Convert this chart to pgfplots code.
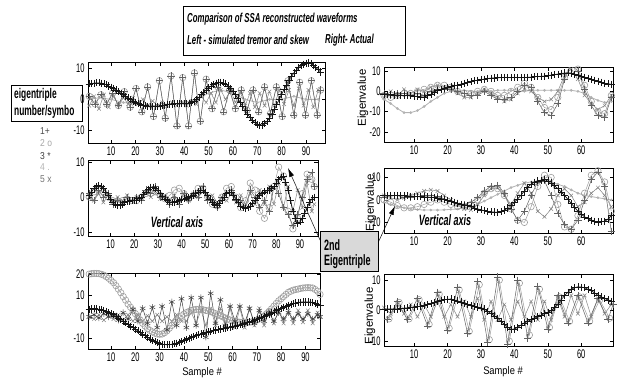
\documentclass[border=0pt]{standalone}
\usepackage{pgfplots}
\pgfplotsset{compat=1.18}
\usepackage{pgfplotstable}
\usepackage{fontspec}
\setmainfont{Liberation Sans}
\newfontfamily\nar{Liberation Sans}[FakeStretch=0.6]
\newfontfamily\midf{Liberation Sans}[FakeStretch=0.85]
\usetikzlibrary{arrows.meta}

% ---------------- data ----------------
% Top-left
\pgfplotstableread[row sep=\\]{x y\\1 5\\2 5.1\\3 5.2\\4 5.3\\5 5.3\\6 5.2\\7 5\\8 4.7\\9 4.3\\10 3.9\\11 3.5\\12 3\\13 2.5\\14 2\\15 1.5\\16 1\\17 0.5\\18 0\\19 -0.5\\20 -0.9\\21 -1.2\\22 -1.5\\23 -1.8\\24 -2\\25 -2.2\\26 -2.3\\27 -2.3\\28 -2.3\\29 -2.2\\30 -2.1\\31 -2\\32 -1.9\\33 -1.7\\34 -1.6\\35 -1.5\\36 -1.4\\37 -1.4\\38 -1.4\\39 -1.4\\40 -1.4\\41 -1.3\\42 -1.2\\43 -1\\44 -0.6\\45 0\\46 0.7\\47 1.5\\48 2.2\\49 3\\50 3.7\\51 4.3\\52 4.8\\53 5.2\\54 5.4\\55 5.5\\56 5.3\\57 5\\58 4.3\\59 3.5\\60 2.5\\61 1.5\\62 0.3\\63 -1\\64 -2.2\\65 -3.5\\66 -4.7\\67 -5.8\\68 -6.7\\69 -7.5\\70 -8\\71 -8.3\\72 -8.2\\73 -7.8\\74 -7\\75 -6\\76 -4.7\\77 -3.2\\78 -1.6\\79 0\\80 1.6\\81 3.2\\82 4.6\\83 6\\84 7.3\\85 8.5\\86 9.4\\87 10.2\\88 10.8\\89 11.3\\90 11.6\\91 11.7\\92 11.5\\93 11\\94 10.3\\95 9.5\\96 8.8\\}\tlA
\pgfplotstableread[row sep=\\]{x y\\1 1\\3.4 -1.5\\5.8 1.5\\8.2 -1.5\\10.6 2\\13 -2\\15.4 2.5\\17.8 -2.5\\20.2 3.5\\22.6 -4\\25 4\\27.4 -5.5\\29.8 6\\32.2 -6\\34.6 7.5\\37 -8.5\\39.4 7\\41.8 -8.5\\44.2 8.5\\46.6 -7\\49 6.5\\51.4 -3\\53.8 4\\56.2 -4\\58.6 3\\61 -3\\63.4 3\\65.8 -3.5\\68.2 3\\70.6 -4\\73 4\\75.4 -4.5\\77.8 4\\80.2 -5.5\\82.6 6\\85 -5\\87.4 5.5\\89.8 -5\\92.2 6\\94.6 -5\\96 3\\}\tlB
\pgfplotstableread[row sep=\\]{x y\\1 -2\\3 1\\5 -3\\7 1.5\\9 -2.5\\11 1\\13 -2\\15 0.5\\17 -1.5\\19 0.5\\21 -1.5\\23 0\\25 -2\\27 -0.5\\29 -2\\31 -1\\33 -2\\35 -1\\37 -2\\39 -1\\41 -2\\43 -0.5\\45 -1.5\\47 1\\49 -1\\51 2\\53 -1\\55 3\\57 0\\59 3\\61 -1\\63 2.5\\65 -2\\67 2\\69 -2.5\\71 2\\73 -2\\75 2.5\\77 -2\\79 3\\81 -1.5\\83 3\\85 -2\\87 3.5\\89 -2\\91 3\\93 -2.5\\95 3\\}\tlE
\pgfplotstableread[row sep=\\]{x y\\1 0\\5 0.5\\10 0\\15 -1\\20 -1.5\\25 -2\\30 -2\\35 -1.5\\40 -1\\45 0\\50 2\\55 3\\60 2\\65 0\\70 -1\\75 0\\80 0\\85 1\\90 0\\95 0\\}\tlD
% Middle-left
\pgfplotstableread[row sep=\\]{x y\\1 0.5\\2 1.5\\3 2.5\\4 3\\5 3.3\\6 3\\7 2.5\\8 1.5\\9 0.5\\10 -0.5\\11 -1.5\\12 -2\\13 -2.3\\14 -2.2\\15 -2\\16 -1.6\\17 -1.2\\18 -1.1\\19 -1\\20 -0.9\\21 -0.8\\22 -0.4\\23 0\\24 0.7\\25 1.5\\26 2.2\\27 2.8\\28 2.8\\29 2.5\\30 1.8\\31 1\\32 0.2\\33 -0.5\\34 -1\\35 -1.5\\36 -1.5\\37 -1.5\\38 -1.3\\39 -1\\40 -0.7\\41 -0.5\\42 -0.2\\43 0\\44 0.2\\45 0.5\\46 1\\47 1.5\\48 1.8\\49 2\\50 1.3\\51 0.5\\52 -0.5\\53 -1.5\\54 -2\\55 -2.2\\56 -1.7\\57 -1\\58 0\\59 1\\60 1.3\\61 1.3\\62 0.5\\63 -0.5\\64 -1.5\\65 -2.5\\66 -3\\67 -3.3\\68 -3\\69 -2.5\\70 -1.8\\71 -1\\72 -0.2\\73 0.5\\74 1\\75 1.5\\76 1.8\\77 2\\78 2.5\\79 3\\80 4\\81 5\\82 5.6\\83 5.8\\84 4.2\\85 2\\86 -1\\87 -4\\88 -6\\89 -7.5\\90 -7\\91 -6\\92 -4.5\\93 -3\\94 -1.5\\95 -0.5\\96 0\\}\mlA
\pgfplotstableread[row sep=\\]{x y\\1 0\\3 1.5\\5 2\\7 1.5\\9 0\\11 -1\\13 -1.5\\15 -1\\17 -0.5\\19 -1\\21 -1\\23 0\\25 1\\27 2\\29 1.5\\31 0.5\\33 -0.5\\35 0.5\\37 2\\39 2.5\\41 1\\43 -0.5\\45 0.5\\47 2.5\\49 2.5\\51 0\\53 -2\\55 -2.5\\57 0\\59 2.5\\61 3\\63 0\\65 -3\\67 -1\\69 4\\71 2\\73 -4\\75 -6\\77 -3\\79 3\\81 8.5\\83 6\\85 -4\\87 -9\\89 -6\\91 1\\93 6.5\\95 5\\96 3\\}\mlC
\pgfplotstableread[row sep=\\]{x y\\1 1\\3 -1\\5 2\\7 0\\9 1\\11 -2\\13 -1\\15 -2\\17 0\\19 -1\\21 0\\23 -1\\25 2\\27 1\\29 3\\31 0\\33 0\\35 -2\\37 0\\39 -2\\41 1\\43 -1\\45 1\\47 0\\49 3\\51 -1\\53 -1\\55 -3\\57 0\\59 1\\61 2\\63 -1\\65 -1\\67 -3\\69 2\\71 0\\73 -3\\75 -1\\77 -4\\79 3\\81 1\\83 -3\\85 -5\\87 -8\\89 -5\\91 0\\93 5\\95 7\\96 3\\}\mlB
\pgfplotstableread[row sep=\\]{x y\\1 0\\3 -1\\5 1\\7 -1.5\\9 0.5\\11 -1\\13 0\\15 -1\\17 0.5\\19 -1\\21 0\\23 -0.5\\25 1\\27 0\\29 1\\31 -0.5\\33 0.5\\35 -1\\37 0.5\\39 -1\\41 1\\43 -1\\45 1\\47 0\\49 1.5\\51 -0.5\\53 0.5\\55 -1.5\\57 0\\59 -1\\61 1\\63 -1.5\\65 0.5\\67 -2\\69 1\\71 -2\\73 2\\75 -2\\77 3\\79 -2\\81 4\\83 -3\\85 3\\87 -4\\89 2\\91 -3\\93 4\\95 -4\\96 -2\\}\mlE
% Bottom-left
\pgfplotstableread[row sep=\\]{x y\\1 20\\2 20.2\\3 20.3\\4 20.3\\5 20.2\\6 19.9\\7 19.5\\8 18.8\\9 18\\10 17\\11 16\\12 14.6\\13 13\\14 11.3\\15 9.5\\16 7.8\\17 6\\18 4.5\\19 3\\20 1.5\\21 0\\22 -1.5\\23 -3\\24 -4.3\\25 -5.5\\26 -6.3\\27 -7\\28 -7.6\\29 -8\\30 -8.1\\31 -8\\32 -7.4\\33 -6.5\\34 -5.3\\35 -4\\36 -2.7\\37 -1.5\\38 -0.5\\39 0.5\\40 1.3\\41 2\\42 2.5\\43 3\\44 3.3\\45 3.5\\46 3.5\\47 3.5\\48 3.3\\49 3\\50 2.8\\51 2.5\\52 2\\53 1.5\\54 1\\55 0.5\\56 0\\57 -0.5\\58 -1\\59 -1.5\\60 -1.8\\61 -2\\62 -2.3\\63 -2.5\\64 -2.5\\65 -2.5\\66 -2.5\\67 -2.5\\68 -2.3\\69 -2\\70 -1.5\\71 -1\\72 -0.3\\73 0.5\\74 1.5\\75 2.5\\76 3.7\\77 5\\78 6.3\\79 7.5\\80 8.5\\81 9.5\\82 10.5\\83 11.5\\84 12\\85 12.5\\86 12.8\\87 13\\88 13.3\\89 13.5\\90 13.6\\91 13.7\\92 13.6\\93 13.5\\94 12.8\\95 12\\96 10.5\\}\blC
\pgfplotstableread[row sep=\\]{x y\\1 3.5\\2 3.7\\3 3.8\\4 3.7\\5 3.5\\6 3.3\\7 3\\8 2.5\\9 2\\10 1.5\\11 1\\12 0.3\\13 -0.5\\14 -1.2\\15 -2\\16 -2.8\\17 -3.5\\18 -4.3\\19 -5\\20 -5.8\\21 -6.5\\22 -7.3\\23 -8\\24 -8.8\\25 -9.5\\26 -10.3\\27 -11\\28 -11.5\\29 -12\\30 -12.4\\31 -12.8\\32 -12.9\\33 -13\\34 -12.9\\35 -12.8\\36 -12.6\\37 -12.3\\38 -11.9\\39 -11.5\\40 -11\\41 -10.5\\42 -10\\43 -9.5\\44 -9.1\\45 -8.7\\46 -8.3\\47 -8\\48 -7.6\\49 -7.3\\50 -7\\51 -6.7\\52 -6.4\\53 -6.2\\54 -5.9\\55 -5.7\\56 -5.4\\57 -5.2\\58 -4.9\\59 -4.7\\60 -4.4\\61 -4.2\\62 -3.9\\63 -3.7\\64 -3.3\\65 -3\\66 -2.6\\67 -2.3\\68 -1.9\\69 -1.5\\70 -1.1\\71 -0.7\\72 -0.2\\73 0.3\\74 0.8\\75 1.3\\76 1.8\\77 2.3\\78 2.9\\79 3.5\\80 4\\81 4.5\\82 5\\83 5.5\\84 5.9\\85 6.2\\86 6.5\\87 6.7\\88 6.9\\89 7\\90 7\\91 7\\92 6.9\\93 6.7\\94 6.4\\95 6\\96 5.5\\}\blA
\pgfplotstableread[row sep=\\]{x y\\1 0\\3 1\\5 -0.5\\7 1.5\\9 0\\11 1\\13 -1.5\\15 2\\17 -1\\19 3.5\\21 -2\\23 4\\25 -3\\27 4.5\\29 -5\\31 5\\33 -6\\35 7\\37 -4\\39 8.5\\41 -5\\43 9\\45 -4\\47 9\\49 -9.5\\51 11\\53 -3\\55 8\\57 -4\\59 5\\61 -2\\63 5\\65 -3\\67 4\\69 -3\\71 3\\73 -2\\75 2\\77 -2\\79 2\\81 -1\\83 2\\85 -1\\87 1.5\\89 -1\\91 1.5\\93 -1\\95 1\\96 0\\}\blF
\pgfplotstableread[row sep=\\]{x y\\1 0\\3 -1\\5 1\\7 -1.5\\9 0.5\\11 -1\\13 1\\15 -1.5\\17 1\\19 -2\\21 1\\23 -2\\25 0.5\\27 -2\\29 1\\31 -2\\33 0\\35 -2\\37 1\\39 -2\\41 -2\\43 2\\45 -3\\47 3\\49 -4\\51 4\\53 -4\\55 4\\57 -5\\59 4\\61 -5\\63 4\\65 -5\\67 4\\69 -4\\71 4\\73 -4\\75 3\\77 -3\\79 3\\81 -3\\83 3\\85 -3\\87 3\\89 -2.5\\91 3\\93 -3\\95 2\\96 0\\}\blE
% Top-right
\pgfplotstableread[row sep=\\]{x y\\1 -1.5\\2 -1.5\\3 -1.5\\4 -1.8\\5 -2\\6 -2\\7 -2\\8 -2.1\\9 -2.2\\10 -2.3\\11 -2.5\\12 -2.7\\13 -2.8\\14 -2.2\\15 -1.5\\16 -0.5\\17 0.5\\18 1\\19 1.5\\20 2\\21 2.5\\22 2.8\\23 3\\24 3.5\\25 4\\26 4.4\\27 4.8\\28 5.2\\29 5.5\\30 5.8\\31 6\\32 6.3\\33 6.5\\34 6.6\\35 6.7\\36 6.8\\37 6.8\\38 6.8\\39 6.8\\40 6.8\\41 6.8\\42 6.8\\43 6.8\\44 6.9\\45 7\\46 7.2\\47 7.3\\48 7.4\\49 7.5\\50 7.7\\51 8\\52 8.3\\53 8.5\\54 8.8\\55 9\\56 9.1\\57 9\\58 8.5\\59 8\\60 7.5\\61 7\\62 6.5\\63 6\\64 5.5\\65 5\\66 4.5\\67 4\\68 3.7\\69 3.5\\}\trA
\pgfplotstableread[row sep=\\]{x y\\1 -1\\3 -2\\5 -1\\7 -1\\9 -2\\11 -1\\13 -2\\15 0\\17 1\\19 1\\21 1\\23 0\\25 -1\\27 -2\\29 -2\\31 0\\33 -2\\35 -4\\37 -4\\39 -3\\41 0\\43 3\\45 2\\47 -5\\49 -10.5\\51 -12\\53 -6\\55 6\\57 13\\59 10\\61 1\\63 -7\\65 -12\\67 -13\\69 -3\\}\trB
\pgfplotstableread[row sep=\\]{x y\\1 -2\\3 -3\\5 -2\\7 -1\\9 -1\\11 0\\13 1\\15 2\\17 3\\19 3\\21 2\\23 0\\25 -1\\27 -1\\29 0\\31 1\\33 0\\35 -2\\37 -2\\39 0\\41 2\\43 4\\45 2\\47 -3\\49 -8\\51 -9\\53 -3\\55 7\\57 14\\59 11\\61 3\\63 -5\\65 -10\\67 -11\\69 -2\\}\trC
\pgfplotstableread[row sep=\\]{x y\\1 -4\\3 -6\\5 -8.5\\7 -10.5\\9 -10.5\\11 -9.5\\13 -7.5\\15 -5\\17 -3\\19 -1\\21 0\\23 0.5\\25 0.5\\27 0\\29 0\\31 0\\33 0\\35 0.5\\37 0.5\\39 0.5\\41 0\\43 0\\45 0.5\\47 0.5\\49 0.5\\51 0.5\\53 0.5\\55 0.5\\57 0.5\\59 0\\61 -1\\63 -3\\65 -4.5\\67 -5.5\\69 -5\\}\trD
\pgfplotstableread[row sep=\\]{x y\\1 -3\\3 0\\5 -2\\7 1\\9 -1\\11 1\\13 0\\15 2\\17 3\\19 2\\21 1\\23 -1\\25 -3\\27 -3\\29 -1\\31 1\\33 -1\\35 -3\\37 -5\\39 -4\\41 -1\\43 1\\45 0\\47 -3\\49 -5\\51 -4\\53 0\\55 8\\57 11\\59 6\\61 -2\\63 -6\\65 -9\\67 -7\\69 -2\\}\trE
% Middle-right
\pgfplotstableread[row sep=\\]{x y\\1 2\\2 2\\3 2\\4 2\\5 2\\6 2\\7 2\\8 1.8\\9 1.7\\10 1.6\\11 1.5\\12 1.4\\13 1.3\\14 1.3\\15 1.2\\16 1\\17 0.8\\18 0.5\\19 0.3\\20 -0.1\\21 -0.5\\22 -1\\23 -1.5\\24 -1.9\\25 -2.3\\26 -2.6\\27 -3\\28 -3.5\\29 -4\\30 -4.4\\31 -4.8\\32 -5.1\\33 -5.3\\34 -5.4\\35 -5.5\\36 -5.1\\37 -4.5\\38 -3.6\\39 -2.5\\40 -1\\41 0.5\\42 2.2\\43 4\\44 5.6\\45 7\\46 7.9\\47 8.5\\48 8.8\\49 9\\50 8.4\\51 7.5\\52 6.3\\53 5\\54 3.5\\55 2\\56 0.3\\57 -1.5\\58 -3.3\\59 -5\\60 -6.3\\61 -7.5\\62 -8.3\\63 -9\\64 -9.5\\65 -9.8\\66 -9.7\\67 -9.5\\68 -8.5\\69 -7\\}\mrA
\pgfplotstableread[row sep=\\]{x y\\1 1\\3 2\\5 2\\7 1\\9 1\\11 1.5\\13 2\\15 2\\17 1.5\\19 0.5\\21 -0.5\\23 -1.5\\25 -2\\27 -1\\29 1\\31 4\\33 6\\35 6.5\\37 3\\39 -4\\41 -9\\43 -5\\45 2\\47 8\\49 8.5\\51 2\\53 -6\\55 -11\\57 -13\\59 -9\\61 0\\63 9\\65 12.5\\67 6\\69 -14\\}\mrB
\pgfplotstableread[row sep=\\]{x y\\1 0\\3 -1\\5 -2.5\\7 -3.5\\9 -3.5\\11 -3\\13 -2\\15 -1\\17 0\\19 -1\\21 -2\\23 -3\\25 -3\\27 -2\\29 0\\31 3\\33 5\\35 5\\37 2\\39 -4\\41 -9\\43 -10\\45 -3\\47 6\\49 11\\51 10\\53 -2\\55 -12\\57 -13\\59 -7\\61 3\\63 11\\65 13\\67 8\\69 -5\\}\mrC
\pgfplotstableread[row sep=\\]{x y\\1 -1\\3 -2\\5 -3\\7 -3.5\\9 -4\\11 -4.3\\13 -4.5\\15 -4.5\\17 -4.5\\19 -4.4\\21 -4.2\\23 -4\\25 -3.5\\27 -3\\29 -2\\31 -0.5\\33 1\\35 2.5\\37 4\\39 5.5\\41 6.5\\43 7.5\\45 8\\47 8.5\\49 8.5\\51 8\\53 7\\55 6\\57 4.5\\59 3\\61 2\\63 1.5\\65 1\\67 0.5\\69 0\\}\mrD
\pgfplotstableread[row sep=\\]{x y\\1 2\\3 1\\5 0\\7 1\\9 2\\11 3\\13 4\\15 4.5\\17 4\\19 2\\21 0\\23 -2\\25 -4\\27 -4.5\\29 -2\\31 2\\33 5\\35 5.5\\37 2\\39 -2\\41 3\\43 7.5\\45 3\\47 -5\\49 -7.5\\51 -4\\53 2\\55 5\\57 2\\59 -3\\61 -1\\63 3\\65 5.5\\67 2\\69 -3\\}\mrE
% Bottom-right
\pgfplotstableread[row sep=\\]{x y\\1 0.5\\2 0.5\\3 0.5\\4 0.5\\5 0.5\\6 0.6\\7 0.8\\8 0.9\\9 1\\10 1.1\\11 1.3\\12 1.5\\13 1.7\\14 2\\15 2.3\\16 2.6\\17 3\\18 3.3\\19 3.6\\20 3.7\\21 3.8\\22 3.5\\23 3.2\\24 2.8\\25 2.4\\26 2\\27 1.6\\28 1.4\\29 1.2\\30 0.9\\31 0.5\\32 -0.2\\33 -1\\34 -1.7\\35 -2.5\\36 -3.5\\37 -4.5\\38 -5.4\\39 -6.2\\40 -6\\41 -5.5\\42 -4.7\\43 -4\\44 -3.5\\45 -3\\46 -2.5\\47 -2\\48 -1.5\\49 -1\\50 -0.5\\51 0\\52 1\\53 2\\54 3.5\\55 5\\56 6\\57 7\\58 7.5\\59 7.8\\60 7.7\\61 7.5\\62 7\\63 6.5\\64 5.8\\65 5\\66 4.5\\67 4\\68 3.5\\69 3\\}\brA
\pgfplotstableread[row sep=\\]{x y\\2 -3\\5 3\\8 -3\\11 4\\14 -5\\17 6\\20 -6.5\\23 7.5\\26 -7.5\\29 9.5\\32 -10.5\\35 11\\38 -11\\41 10\\44 -9\\47 8\\50 -6\\53 5\\56 -4\\59 5\\62 -4\\65 4\\68 -3\\69.5 2\\}\brB
\pgfplotstableread[row sep=\\]{x y\\2.5 -2.7\\5.5 2.7\\8.5 -2.7\\11.5 3.6\\14.5 -4.5\\17.5 5.4\\20.5 -5.8\\23.5 6.8\\26.5 -6.8\\29.5 8.5\\32.5 -9.5\\35.5 10\\38.5 -10\\41.5 9\\44.5 -8\\47.5 7\\50.5 -5.5\\53.5 4.5\\56.5 -3.5\\59.5 4.5\\62.5 -3.5\\65.5 3.5\\68.5 -2.5\\}\brC
\pgfplotstableread[row sep=\\]{x y\\1 1\\3 -1\\5 2\\7 -1\\9 2\\11 -2\\13 2\\15 -2\\17 3\\19 -2\\21 2\\23 -2\\25 3\\27 -2\\29 4\\31 -3\\33 3\\35 -3\\37 2\\39 -3\\41 3\\43 -2\\45 3\\47 -3\\49 3\\51 -3\\53 4\\55 -2\\57 5\\59 -1\\61 5\\63 -2\\65 4\\67 -1\\69 2\\}\brE

\pgfplotsset{
  panel/.style={scale only axis, anchor=south west,
    axis line style={line width=0.5pt},
    tick align=inside, major tick length=3.5pt,
    tick style={line width=0.5pt, black},
    /pgf/number format/assume math mode=true,
    ticklabel style={font=\fontsize{12.5}{13}\selectfont\nar},
  },
  leftp/.style={panel, xmin=0.5, xtick={10,20,...,90}},
  rightp/.style={panel, xmin=1, xmax=69.5, xtick={10,20,...,60}},
  sA/.style={black!92, line width=0.7pt, mark=+, mark size=3.6pt, mark options={line width=0.6pt}},
  sB/.style={black!62, line width=0.5pt, mark=+, mark size=3.6pt, mark options={line width=0.6pt}},
  sC/.style={black!38, line width=0.5pt, mark=o, mark size=3.2pt, mark options={line width=0.6pt}},
  sD/.style={black!30, line width=0.8pt, mark=*, mark size=0.9pt},
  sE/.style={black!48, line width=0.5pt, mark=x, mark size=2.6pt},
  sF/.style={black!75, line width=0.5pt, mark=asterisk, mark size=3.2pt},
}

\begin{document}
\begin{tikzpicture}
\path[use as bounding box] (0pt,0pt) rectangle (618pt,-381pt);

% ---- title box ----
\draw[line width=0.9pt] (183pt,-6pt) rectangle (405pt,-55pt);
\node[anchor=west, inner sep=0pt, font=\fontsize{13}{13}\selectfont\nar\bfseries\itshape] at (187pt,-19pt) {Comparison of SSA reconstructed waveforms};
\node[anchor=west, inner sep=0pt, font=\fontsize{13}{13}\selectfont\nar\bfseries\itshape] at (187pt,-40pt) {Left - simulated tremor and skew};
\node[anchor=west, inner sep=0pt, font=\fontsize{13}{13}\selectfont\nar\bfseries\itshape] at (325pt,-40pt) {Right- Actual};

% ---- legend ----
\draw[line width=0.9pt] (11pt,-85pt) rectangle (82pt,-121pt);
\node[anchor=west, inner sep=0pt, font=\fontsize{14}{14}\selectfont\nar\bfseries] at (14pt,-95pt) {eigentriple};
\node[anchor=west, inner sep=0pt, font=\fontsize{14}{14}\selectfont\nar\bfseries] at (14pt,-112pt) {number/symbo};
\node[anchor=west, inner sep=0pt, font=\fontsize{10}{10}\selectfont\midf, text=black!70] at (40pt,-131pt) {1+};
\node[anchor=west, inner sep=0pt, font=\fontsize{10}{10}\selectfont\midf, text=black!35] at (40pt,-143pt) {2 o};
\node[anchor=west, inner sep=0pt, font=\fontsize{10}{10}\selectfont\midf, text=black!75] at (40pt,-156pt) {3 *};
\node[anchor=west, inner sep=0pt, font=\fontsize{10}{10}\selectfont\midf, text=black!30] at (40pt,-167pt) {4 .};
\node[anchor=west, inner sep=0pt, font=\fontsize{10}{10}\selectfont\midf, text=black!55] at (40pt,-179pt) {5 x};

% ---- top-left ----
\begin{axis}[leftp, at={(88pt,-143pt)}, width=237pt, height=81pt, xmax=97.8, ymin=-14, ymax=12, ytick={-10,0,10}]
\addplot[sD] table {\tlD};
\addplot[sE] table {\tlE};
\addplot[sC] table {\tlB};
\addplot[sB] table {\tlB};
\addplot[sA] table {\tlA};
\end{axis}

% ---- middle-left ----
\begin{axis}[leftp, at={(88pt,-236pt)}, width=230pt, height=76pt, xmax=97.6, ymin=-11, ymax=10.5, ytick={-10,0,10}]
\addplot[sE] table {\mlE};
\addplot[sC] table {\mlC};
\addplot[sB] table {\mlB};
\addplot[sA] table {\mlA};
\end{axis}

% ---- bottom-left ----
\begin{axis}[leftp, at={(88pt,-349pt)}, width=232pt, height=76pt, xmax=96, ymin=-15, ymax=20.5, ytick={-10,0,10,20}]
\addplot[sE] table {\blE};
\addplot[sC] table {\blC};
\addplot[sF] table {\blF};
\addplot[sA] table {\blA};
\end{axis}

% ---- top-right ----
\begin{axis}[rightp, at={(384pt,-142pt)}, width=229pt, height=75pt, ymin=-25, ymax=12, ytick={-20,-10,0,10}]
\addplot[sD] table {\trD};
\addplot[sE] table {\trE};
\addplot[sC] table {\trC};
\addplot[sB] table {\trB};
\addplot[sA] table {\trA};
\end{axis}

% ---- middle-right ----
\begin{axis}[rightp, at={(384pt,-233pt)}, width=229pt, height=65pt, ymin=-14.7, ymax=14.2, ytick={-10,0,10}]
\addplot[sD] table {\mrD};
\addplot[sE] table {\mrE};
\addplot[sC] table {\mrC};
\addplot[sB] table {\mrB};
\addplot[sA] table {\mrA};
\end{axis}

% ---- bottom-right ----
\begin{axis}[rightp, at={(384pt,-346pt)}, width=229pt, height=72pt, ymin=-11.6, ymax=12, ytick={-10,0,10}]
\addplot[sE] table {\brE};
\addplot[sC] table {\brC};
\addplot[sB] table {\brB};
\addplot[sA] table {\brA};
\end{axis}

% ---- axis labels ----
\node[rotate=90, inner sep=0pt, font=\fontsize{11.5}{12}\selectfont] at (363pt,-98pt) {Eigenvalue};
\node[rotate=90, inner sep=0pt, font=\fontsize{11.5}{12}\selectfont] at (371pt,-203pt) {Eigenvalue};
\node[rotate=90, inner sep=0pt, font=\fontsize{11.5}{12}\selectfont] at (370pt,-316pt) {Eigenvalue};
\node[inner sep=0pt, font=\fontsize{11}{11}\selectfont\midf] at (202pt,-373pt) {Sample \#};
\node[inner sep=0pt, font=\fontsize{11}{11}\selectfont\midf] at (503pt,-372pt) {Sample \#};

% ---- annotations ----
\node[inner sep=0pt, font=\fontsize{15}{15}\selectfont\nar\bfseries\itshape] at (177pt,-222pt) {Vertical axis};
\node[inner sep=0pt, font=\fontsize{15}{15}\selectfont\nar\bfseries\itshape] at (445pt,-220pt) {Vertical axis};
\draw[line width=0.5pt, -{Latex[length=9pt,width=5pt]}] (320pt,-240pt) -- (288pt,-168pt);
\draw[line width=0.5pt, -{Latex[length=9pt,width=5pt]}] (377pt,-245pt) -- (395pt,-206pt);
\draw[line width=0.9pt, fill=black!15] (320pt,-231pt) rectangle (378pt,-271pt);
\node[anchor=west, inner sep=0pt, font=\fontsize{15}{15}\selectfont\nar\bfseries] at (324pt,-245pt) {2nd};
\node[anchor=west, inner sep=0pt, font=\fontsize{15}{15}\selectfont\nar\bfseries] at (324pt,-262pt) {Eigentriple};
\end{tikzpicture}
\end{document}
